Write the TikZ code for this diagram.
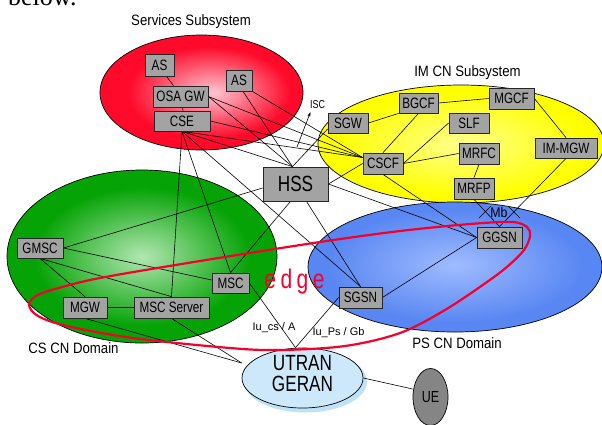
\documentclass[tikz,border=0pt]{standalone}
\usepackage{fontspec}
\setmainfont{Liberation Sans}
\newfontfamily\nodefont{Liberation Sans}[FakeStretch=0.78]
\newfontfamily\labelfont{Liberation Sans}[FakeStretch=0.88]
\newfontfamily\serfont{Liberation Serif}
\usetikzlibrary{arrows.meta,shapes.geometric}
\definecolor{boxgray}{HTML}{A3A3A3}
\definecolor{rin}{HTML}{FFC6D2}
\definecolor{rout}{HTML}{FF0A2A}
\definecolor{gin}{HTML}{B2E6B2}
\definecolor{gout}{HTML}{05A305}
\definecolor{bin}{HTML}{A0BCFF}
\definecolor{bout}{HTML}{5886F2}
\definecolor{yin}{HTML}{FFFF8C}
\definecolor{yout}{HTML}{FFFF00}
\definecolor{utran}{HTML}{CCE8FA}
\definecolor{utsh}{HTML}{BFE2F8}
\definecolor{edgered}{HTML}{F5002D}
\definecolor{uegray}{HTML}{858585}
\pgfdeclareradialshading{redsh}{\pgfpoint{3bp}{0bp}}{color(0bp)=(rin); color(20bp)=(rout); color(50bp)=(rout)}
\pgfdeclareradialshading{greensh}{\pgfpoint{0bp}{0bp}}{color(0bp)=(gin); color(20bp)=(gout); color(50bp)=(gout)}
\pgfdeclareradialshading{bluesh}{\pgfpoint{0bp}{1bp}}{color(0bp)=(bin); color(22bp)=(bout); color(50bp)=(bout)}
\pgfdeclareradialshading{yellowsh}{\pgfpoint{0bp}{0bp}}{color(0bp)=(yin); color(22bp)=(yout); color(50bp)=(yout)}
\pgfdeclarelayer{bg}
\pgfdeclarelayer{ln}
\pgfsetlayers{bg,ln,main}
\begin{document}
\begin{tikzpicture}[x=1pt,y=-1pt,
  wh/.style 2 args={minimum width=#1pt, minimum height=#2pt},
  box/.style={draw=black!85, fill=boxgray, line width=0.8pt, inner sep=0pt,
    font={\nodefont\fontsize{15}{15}\selectfont}},
  ln/.style={line width=0.6pt, black},
  area/.style={draw=black, line width=0.7pt, shade},
  arealabel/.style={font={\labelfont\fontsize{15}{15}\selectfont}, anchor=base, inner sep=0pt},
  smalllabel/.style={font={\fontsize{11}{11}\selectfont}, anchor=base, inner sep=0pt},
]
\useasboundingbox (0,0) rectangle (602,424);

% areas
\begin{pgfonlayer}{bg}
\path[area, shading=redsh] (201.5,92.5) ellipse [x radius=101.5, y radius=57.5];
\path[area, shading=yellowsh] (461,144) ellipse [x radius=143, y radius=59];
\path[area, shading=bluesh] (455,267) ellipse [x radius=147, y radius=65];
\path[area, shading=greensh] (142,256.5) ellipse [x radius=135, y radius=86.5];
\path[fill=utsh] (305.5,381.5) ellipse [x radius=61.5, y radius=31];
\end{pgfonlayer}

% area labels
\node[arealabel] (lserv) at (191,25) {Services Subsystem};
\node[arealabel] (limcn) at (467.5,76) {IM CN Subsystem};
\node[arealabel] (lcscn) at (73.5,353) {CS CN Domain};
\node[arealabel] (lpscn) at (457,348) {PS CN Domain};
\node[font={\serfont\fontsize{26}{26}\selectfont}, anchor=base west, inner sep=0pt] (below) at (8,5) {below.};

% boxes
\node[box, wh={29}{22}] (AS1) at (159.5,65) {AS};
\node[box, wh={26}{21}] (AS2) at (239,80.5) {AS};
\node[box, wh={55}{21}] (OSAGW) at (180.5,96.5) {OSA GW};
\node[box, wh={56}{20}] (CSE) at (182,121) {CSE};
\node[box, wh={40}{20}] (SGW) at (348,123) {SGW};
\node[box, wh={39}{20}] (BGCF) at (418.5,103) {BGCF};
\node[box, wh={45}{21}] (MGCF) at (511.5,98.5) {MGCF};
\node[box, wh={40}{20}] (SLF) at (469,123) {SLF};
\node[box, wh={40}{21}] (CSCF) at (383,163.5) {CSCF};
\node[box, wh={40}{21}] (MRFC) at (479,153.5) {MRFC};
\node[box, wh={62}{20}] (IMMGW) at (566,148) {IM-MGW};
\node[box, wh={40}{21}] (MRFP) at (474,188.5) {MRFP};
\node[box, wh={65}{34}, font={\nodefont\fontsize{22}{22}\selectfont}] (HSS) at (295.5,184) {HSS};
\node[box, wh={46}{20}] (GMSC) at (40,248) {GMSC};
\node[box, wh={37}{20}] (MSC) at (230.5,283) {MSC};
\node[box, wh={44}{21}] (MGW) at (85,307.5) {MGW};
\node[box, wh={75}{21}] (MSCS) at (171.5,307.5) {MSC Server};
\node[box, wh={45}{21}] (GGSN) at (499.5,237.5) {GGSN};
\node[box, wh={43}{21}] (SGSN) at (360.5,297.5) {SGSN};

% access
\node[ellipse, draw=black, line width=0.7pt, fill=utran, minimum width=121pt, minimum height=60pt, inner sep=0pt] (UTRAN) at (302.5,378) {};
\node[font={\nodefont\fontsize{22}{21}\selectfont}, align=center, inner sep=0pt] (utxt) at (302.5,374) {UTRAN\\GERAN};
\node[ellipse, draw=black, line width=0.7pt, fill=uegray, minimum width=35pt, minimum height=57pt, inner sep=0pt, font={\nodefont\fontsize{16}{16}\selectfont}] (UE) at (430.5,397) {UE};

% helper points
\coordinate (hsstop) at ([xshift=-3pt]HSS.north);
\coordinate (cscfin) at ([yshift=6pt]CSCF.west);
\coordinate (utop) at ([xshift=-7pt]UTRAN.north);
\coordinate (uleft) at ([yshift=15pt]UTRAN.west);
\coordinate (isca) at (297,147);
\coordinate (iscb) at (310.5,112);
\coordinate (mb1a) at (479,218);
\coordinate (mb1b) at (491,206);
\coordinate (mb2a) at (508,206);
\coordinate (mb2b) at (520,218);

\begin{pgfonlayer}{ln}
\draw[ln] ([xshift=7pt]AS1.south) -- ([xshift=-7pt]OSAGW.north);
\draw[ln] ([xshift=2pt]OSAGW.south) -- ([xshift=1pt]CSE.north);
\draw[ln] ([xshift=4pt]AS2.south) -- (hsstop);
\draw[ln] (AS2.south east) -- (cscfin);
\draw[ln] (OSAGW.east) -- (hsstop);
\draw[ln] (OSAGW.east) -- (cscfin);
\draw[ln] (CSE.east) -- (cscfin);
\draw[ln] (CSE.south) -- (cscfin);
\draw[ln] (CSE.south) -- (hsstop);
\draw[ln] (CSE.south) -- (MSCS.north);
\draw[ln] (CSE.south) -- (MSC.north);
\draw[ln] (CSE.south) -- (SGSN.north);
\draw[ln] (hsstop) -- ([yshift=-6pt]SGW.west);
\draw[ln] (GMSC.east) -- ([yshift=-4pt]HSS.west);
\draw[ln] (GMSC.east) -- ([yshift=3pt]MSC.west);
\draw[ln] (GMSC.south) -- (MGW.north);
\draw[ln] (GMSC.south) -- (MSCS.north);
\draw[ln] (MGW.east) -- (MSCS.west);
\draw[ln] ([xshift=-5pt]HSS.south) -- (MSC.north);
\draw[ln] ([xshift=11pt]HSS.south) -- (SGSN.north);
\draw[ln] (HSS.east) -- (CSCF.west);
\draw[ln] (HSS.east) -- (GGSN.west);
\draw[ln] (CSCF.south) -- (GGSN.west);
\draw[ln] (SGSN.east) -- (GGSN.west);
\draw[ln] (SGW.east) -- (BGCF.south west);
\draw[ln] (BGCF.east) -- (MGCF.west);
\draw[ln] (CSCF.north) -- (BGCF.south);
\draw[ln] (CSCF.east) -- (SLF.west);
\draw[ln] (CSCF.east) -- (MRFC.west);
\draw[ln] (MGCF.east) -- (IMMGW.north);
\draw[ln] (MRFC.south) -- (MRFP.north);
\draw[ln] (MRFP.south) -- (GGSN.north);
\draw[ln] (IMMGW.south) -- (GGSN.north);
\draw[ln] (MSC.east) -- (utop);
\draw[ln] (SGSN.west) -- (utop);
\draw[ln] (MGW.south) -- (uleft);
\draw[ln] (MSCS.south) -- (uleft);
\draw[ln] (UTRAN.east) -- ([yshift=8pt]UE.west);
\draw[ln] (mb1a) -- (mb1b);
\draw[ln] (mb2a) -- (mb2b);
\draw[ln, -{Stealth[length=5pt, width=3pt]}] (isca) -- (iscb);
\end{pgfonlayer}

% interface labels
\node[font={\nodefont\fontsize{11.5}{11.5}\selectfont}, anchor=base, inner sep=0pt] (isc) at (317.5,108) {ISC};
\node[font={\labelfont\fontsize{14}{14}\selectfont}, anchor=base, inner sep=0pt] (mb) at (499,217) {Mb};
\node[smalllabel] (iucs) at (274,330) {Iu\_cs / A};
\node[smalllabel] (iups) at (338.5,335) {Iu\_Ps / Gb};

% edge outline
\draw[edgered, line width=2.2pt] plot[smooth cycle, tension=0.55] coordinates {
  (29,305) (36,296) (55,289) (100,278) (200,261) (320,242) (400,231) (470,224)
  (512,222) (527,227) (530,236) (524,250) (508,266) (487,282) (445,310) (400,333)
  (345,346) (280,350) (230,348) (133,338) (67,326) (38,316)};
\node[text=edgered, font={\nodefont\fontsize{27}{27}\selectfont}, anchor=base, inner sep=0pt] (edgelbl) at (294.5,288) {e\kern4.5pt d\kern4.5pt g\kern4.5pt e};
\end{tikzpicture}
\end{document}
